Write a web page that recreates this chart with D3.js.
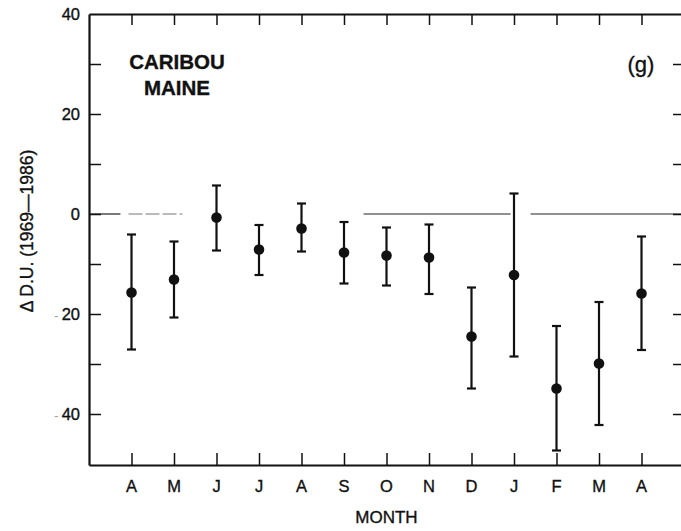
<!DOCTYPE html>
<html><head><meta charset="utf-8">
<script src="https://cdn.jsdelivr.net/npm/d3@7"></script>
<style>body{margin:0;background:#fff}svg{display:block}text{font-family:"Liberation Sans",Arial,Helvetica,sans-serif;fill:#111;stroke:#111;stroke-width:0.35px}</style>
</head><body>
<svg id="c" width="681" height="531"></svg>
<script>
const months = ["A","M","J","J","A","S","O","N","D","J","F","M","A"];
const means  = [-15.7,-13.1,-0.7,-7.1,-2.9,-7.7,-8.3,-8.7,-24.5,-12.2,-34.9,-29.9,-15.9];
const upper  = [-4.1,-5.5,5.7,-2.2,2.1,-1.6,-2.7,-2.1,-14.7,4.1,-22.4,-17.6,-4.5];
const lower  = [-27.1,-20.7,-7.3,-12.2,-7.5,-13.9,-14.3,-16.0,-34.9,-28.5,-47.3,-42.2,-27.2];
const yTickLabels = [40,20,0,-20,-40];
const yMinorTicks = [30,20,10,0,-10,-20,-30,-40];
// zero reference line pieces (in month-index units), as scanned
const zeroSolid = [[-1,-0.26],[5.46,8.92],[9.39,13]];
const zeroFaint = [[-0.07,1.2]];

(function(){
const svg = d3.select("#c");
const x = d3.scaleLinear().domain([-1,13]).range([89,684]);
const y = d3.scaleLinear().domain([-50.2,40]).range([465,14]);
const idx = months.map((m,i)=>i);

// zero line
svg.selectAll("line.z").data(zeroSolid).join("line").attr("class","z")
  .attr("x1",d=>x(d[0])).attr("x2",d=>x(d[1]))
  .attr("y1",y(0)).attr("y2",y(0)).attr("stroke","#222").attr("stroke-width",1.2);
svg.selectAll("line.zf").data(zeroFaint).join("line").attr("class","zf")
  .attr("x1",d=>x(d[0])).attr("x2",d=>x(d[1]))
  .attr("y1",y(0)).attr("y2",y(0)).attr("stroke","#777").attr("stroke-width",1)
  .attr("stroke-dasharray","14,3");

// axes with inward ticks
const axB = d3.axisBottom(x).tickValues(idx).tickSize(-12).tickSizeOuter(0).tickFormat("");
const axT = d3.axisTop(x).tickValues(idx).tickSize(-11).tickSizeOuter(0).tickFormat("");
const axL = d3.axisLeft(y).tickValues(yMinorTicks).tickSize(-12).tickSizeOuter(0).tickFormat("");
const axR = d3.axisRight(y).tickValues(yMinorTicks).tickSize(-11).tickSizeOuter(0).tickFormat("");
function styleAxis(g){
  g.select(".domain").attr("stroke","#111").attr("stroke-width",2.2);
  g.selectAll(".tick line").attr("stroke","#111").attr("stroke-width",1.5);
}
svg.append("g").attr("transform",`translate(0,${y(-50.2)})`).call(axB).call(styleAxis);
svg.append("g").attr("transform",`translate(0,${y(40)})`).call(axT).call(styleAxis);
svg.append("g").attr("transform",`translate(${x(-1)},0)`).call(axL).call(styleAxis);
svg.append("g").attr("transform",`translate(${x(13)},0)`).call(axR).call(styleAxis);

// y tick labels
const yl = svg.append("g").selectAll("text").data(yTickLabels).join("text")
  .attr("x",80).attr("y",d=>y(d)+6).attr("text-anchor","end")
  .attr("font-size",16.5);
yl.each(function(d){
  const t = d3.select(this);
  if(d<0){
    t.append("tspan").attr("fill","#999").attr("stroke","none").attr("font-size",12).text("- ");
    t.append("tspan").text(String(Math.abs(d)));
  } else t.text(String(d));
});

// x tick labels
svg.append("g").selectAll("text").data(months).join("text")
  .attr("x",(d,i)=>x(i)).attr("y",492).attr("text-anchor","middle")
  .attr("font-size",16.5).text(d=>d);

// axis titles
svg.append("text").attr("x",x(6)).attr("y",523).attr("text-anchor","middle")
  .attr("font-size",17).text("MONTH");
svg.append("text").attr("transform",`translate(33,${y(-3.4)}) rotate(-90)`)
  .attr("text-anchor","middle").attr("font-size",17.5).text("\u0394 D.U. (1969\u20141986)");

// annotations
svg.append("text").attr("x",177).attr("y",69).attr("text-anchor","middle")
  .attr("font-size",20.5).attr("font-weight","bold").text("CARIBOU");
svg.append("text").attr("x",177).attr("y",95).attr("text-anchor","middle")
  .attr("font-size",20.5).attr("font-weight","bold").text("MAINE");
svg.append("text").attr("x",641).attr("y",72).attr("text-anchor","middle")
  .attr("font-size",22).text("(g)");

// error bars
const eb = svg.append("g").attr("stroke","#111").attr("stroke-width",2.2);
eb.selectAll("line.v").data(idx).join("line").attr("class","v")
  .attr("x1",i=>x(i)).attr("x2",i=>x(i)).attr("y1",i=>y(upper[i])).attr("y2",i=>y(lower[i]));
eb.selectAll("line.t").data(idx).join("line").attr("class","t")
  .attr("x1",i=>x(i)-4.5).attr("x2",i=>x(i)+4.5).attr("y1",i=>y(upper[i])).attr("y2",i=>y(upper[i]));
eb.selectAll("line.b").data(idx).join("line").attr("class","b")
  .attr("x1",i=>x(i)-4.5).attr("x2",i=>x(i)+4.5).attr("y1",i=>y(lower[i])).attr("y2",i=>y(lower[i]));
svg.append("g").selectAll("circle").data(idx).join("circle")
  .attr("cx",i=>x(i)).attr("cy",i=>y(means[i])).attr("r",5.3).attr("fill","#111");
})();
</script>
</body></html>
